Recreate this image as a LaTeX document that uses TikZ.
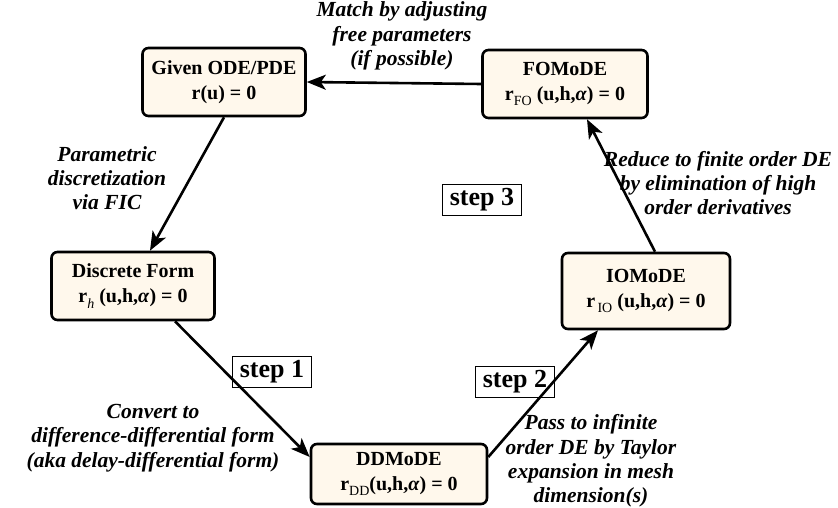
\documentclass[tikz,border=0pt]{standalone}
\usepackage{fontspec}
\setmainfont{Liberation Serif}
\usepackage{tikz}
\usetikzlibrary{arrows.meta}
\definecolor{cream}{RGB}{255,248,236}
\newcommand{\rsub}[1]{\raisebox{-0.6ex}{\fontsize{14}{14}\selectfont\mdseries #1}}
\tikzset{
  modebox/.style={draw, line width=2.6pt, rounded corners=6pt, fill=cream,
    align=center, font=\fontsize{20}{25}\selectfont\bfseries,
    minimum width=163pt, minimum height=68pt, inner sep=4pt},
  stepbox/.style={draw, line width=1.1pt, inner xsep=7pt, inner ysep=4pt,
    font=\fontsize{26}{28}\selectfont\bfseries},
  note/.style={align=center, font=\fontsize{21.5}{24.3}\selectfont\bfseries\itshape},
  flow/.style={line width=2.6pt, -{Stealth[length=19pt,width=15pt,inset=5pt]}}
}
\begin{document}
\begin{tikzpicture}[x=1pt,y=-1pt]
  \useasboundingbox (0,0) rectangle (838,508);
  \node [modebox] (1) at (224,82) {Given ODE/PDE\\ r(u) = 0};
  \node [modebox] (2) at (133,286) {Discrete Form\\ r\rsub{\itshape h} (u,h,\textit{α}) = 0};
  \node [modebox, minimum width=176pt, minimum height=60pt] (3) at (399,474)
    {DDMoDE\\ r\rsub{DD}(u,h,\textit{α}) = 0};
  \node [modebox, minimum width=168pt, minimum height=76pt] (4) at (646,291)
    {IOMoDE\\ r\rsub{\,IO} (u,h,\textit{α}) = 0};
  \node [modebox, minimum width=165pt] (5) at (565,84)
    {FOMoDE\\ r\rsub{FO} (u,h,\textit{α}) = 0};
  \draw [flow] (5.west) to (1.east);
  \draw [flow] (1.south) to ([xshift=17pt]2.north);
  \draw [flow] ([xshift=42pt]2.south) to ([yshift=17pt]3.west);
  \draw [flow] ([yshift=17pt]3.east) to ([xshift=-48pt]4.south);
  \draw [flow] ([xshift=9pt]4.north) to ([xshift=22pt]5.south);
  \node [stepbox] (s1) at (272,372) {step 1};
  \node [stepbox] (s2) at (515,382) {step 2};
  \node [stepbox] (s3) at (482,200) {step 3};
  \node [note] (n1) at (402,36) {Match by adjusting\\ free parameters\\ (if possible)};
  \node [note] (n2) at (107,178) {Parametric\\ discretization\\ via FIC};
  \node [note] (n3) at (153,438)
    {Convert to\\ difference-differential form\\ (aka delay-differential form)};
  \node [note] (n4) at (591,461)
    {Pass to infinite\\ order DE by Taylor\\ expansion in mesh\\ dimension(s)};
  \node [note] (n5) at (718,183)
    {Reduce to finite order DE\\ by elimination of high\\ order derivatives};
\end{tikzpicture}
\end{document}
